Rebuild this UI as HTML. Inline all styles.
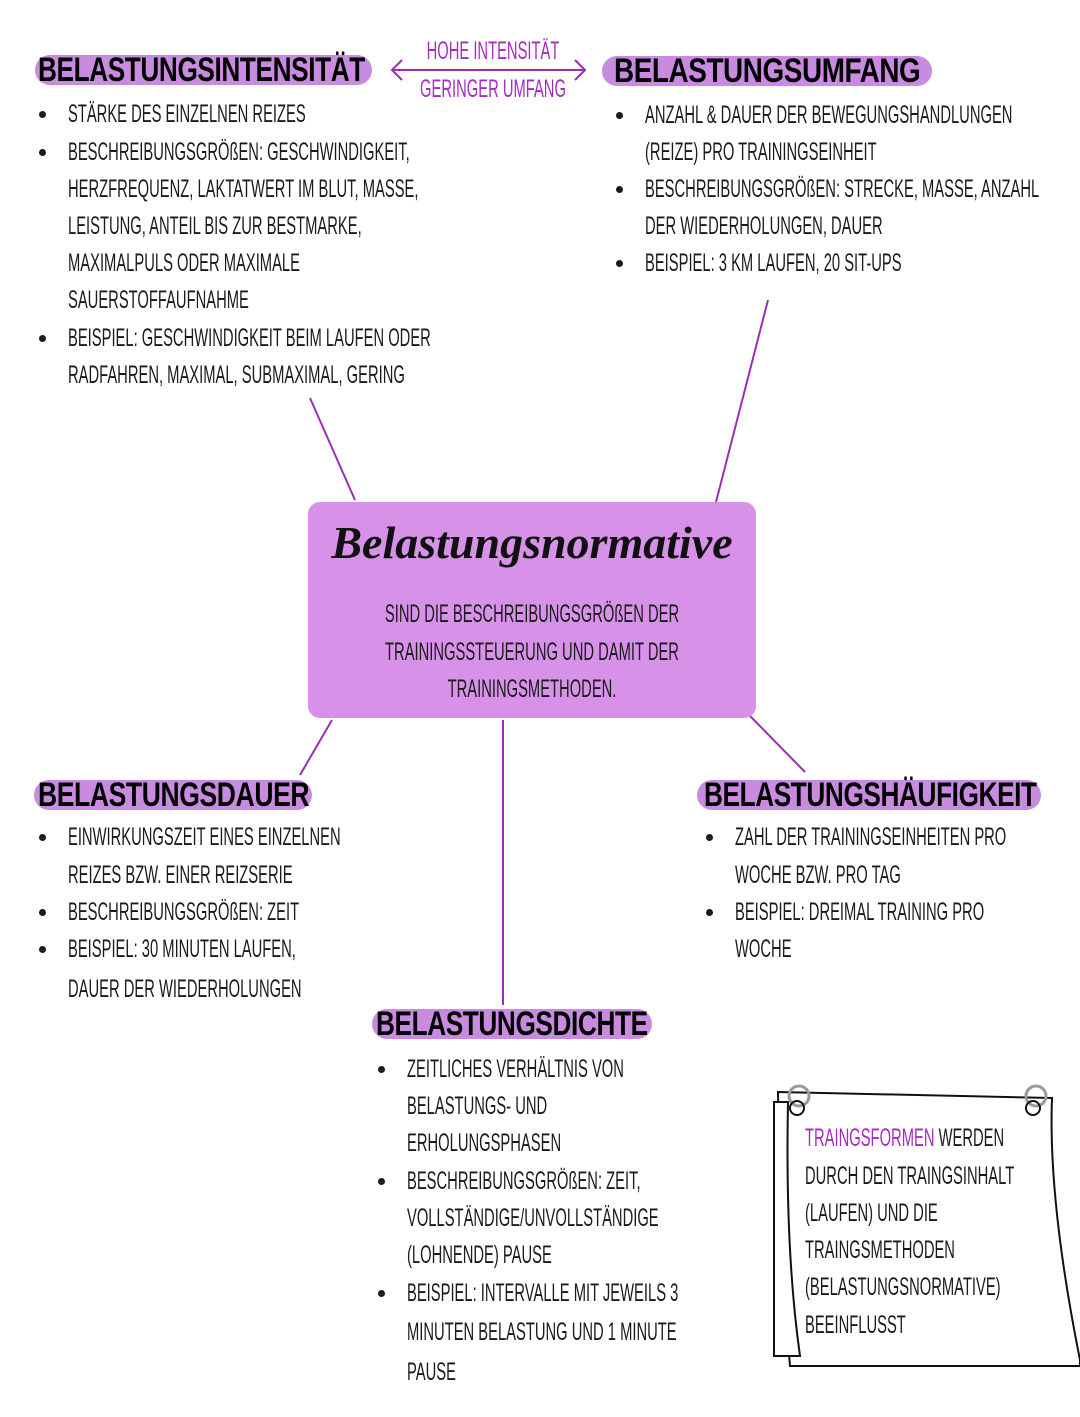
<!DOCTYPE html>
<html><head><meta charset="utf-8"><style>
body{margin:0;width:1080px;height:1417px;background:#fff;position:relative;overflow:hidden;font-family:"Liberation Sans",sans-serif;}
.t{position:absolute;white-space:nowrap;font-size:25px;line-height:26px;transform:scaleX(.59);transform-origin:left center;color:#1a1a1a;}
.c{position:absolute;white-space:nowrap;font-size:25px;line-height:26px;transform:translateX(-50%) scaleX(.59);transform-origin:center center;color:#1a1a1a;}
.b{position:absolute;width:7px;height:7px;border-radius:50%;background:#1a1a1a;}
.h{position:absolute;white-space:nowrap;font-weight:900;font-size:34px;line-height:34px;transform-origin:left center;color:#000;letter-spacing:-0.5px;}
.pill{position:absolute;background:#c98be0;border-radius:16px;height:30px;}
.p{color:#a52bbf}
</style></head><body>
<svg width="1080" height="1417" style="position:absolute;left:0;top:0">
<g stroke="#9a2fb5" stroke-width="2" fill="none">
<line x1="310" y1="398" x2="355" y2="500"/>
<line x1="768" y1="300" x2="716" y2="502"/>
<line x1="332" y1="720" x2="300" y2="775"/>
<line x1="503" y1="720" x2="503" y2="1005"/>
<line x1="750" y1="716" x2="805" y2="772"/>
<line x1="392" y1="70" x2="585" y2="70"/>
<polyline points="402,60 392,70 402,80"/>
<polyline points="575,60 585,70 575,80"/>
</g>
<rect x="308" y="502" width="448" height="216" rx="12" fill="#d891e8"/>
<g stroke="#111" stroke-width="2" fill="#fff">
<path d="M778,1092 L1052,1098 Q1048,1200 1080,1360 L1080,1366 L790,1366 Q780,1250 778,1092Z" />
<path d="M774,1102 L788,1102 Q785,1250 800,1356 L774,1356Z" fill="#fff"/>
</g>
<g fill="none" stroke="#999" stroke-width="3"><circle cx="799" cy="1096" r="10"/><circle cx="1036" cy="1096" r="10"/></g>
<g fill="none" stroke="#111" stroke-width="2"><circle cx="797" cy="1108" r="7"/><circle cx="1033" cy="1108" r="7"/></g>
</svg>

<div class="pill" style="left:35px;top:55px;width:337px"></div>
<div class="h" style="left:38px;top:53px;transform:scaleX(.77)">BELASTUNGSINTENSITÄT</div>
<div class="pill" style="left:602px;top:56px;width:330px"></div>
<div class="h" style="left:614px;top:54px;transform:scaleX(.82)">BELASTUNGSUMFANG</div>
<div class="c p" style="left:493px;top:38px">HOHE INTENSITÄT</div>
<div class="c p" style="left:493px;top:76px">GERINGER UMFANG</div>

<div class="b" style="left:39px;top:111px"></div>
<div class="t" style="left:68px;top:101px">STÄRKE DES EINZELNEN REIZES</div>
<div class="b" style="left:39px;top:149px"></div>
<div class="t" style="left:68px;top:139px">BESCHREIBUNGSGRÖßEN: GESCHWINDIGKEIT,</div>
<div class="t" style="left:68px;top:176px">HERZFREQUENZ, LAKTATWERT IM BLUT, MASSE,</div>
<div class="t" style="left:68px;top:213px">LEISTUNG, ANTEIL BIS ZUR BESTMARKE,</div>
<div class="t" style="left:68px;top:250px">MAXIMALPULS ODER MAXIMALE</div>
<div class="t" style="left:68px;top:287px">SAUERSTOFFAUFNAHME</div>
<div class="b" style="left:39px;top:335px"></div>
<div class="t" style="left:68px;top:325px">BEISPIEL: GESCHWINDIGKEIT BEIM LAUFEN ODER</div>
<div class="t" style="left:68px;top:362px">RADFAHREN, MAXIMAL, SUBMAXIMAL, GERING</div>

<div class="b" style="left:616px;top:112px"></div>
<div class="t" style="left:645px;top:102px">ANZAHL &amp; DAUER DER BEWEGUNGSHANDLUNGEN</div>
<div class="t" style="left:645px;top:139px">(REIZE) PRO TRAININGSEINHEIT</div>
<div class="b" style="left:616px;top:186px"></div>
<div class="t" style="left:645px;top:176px">BESCHREIBUNGSGRÖßEN: STRECKE, MASSE, ANZAHL</div>
<div class="t" style="left:645px;top:213px">DER WIEDERHOLUNGEN, DAUER</div>
<div class="b" style="left:616px;top:260px"></div>
<div class="t" style="left:645px;top:250px">BEISPIEL: 3 KM LAUFEN, 20 SIT-UPS</div>

<div style="position:absolute;left:308px;top:516px;width:448px;text-align:center;font-family:'Liberation Serif',serif;font-style:italic;font-weight:bold;font-size:46px;color:#111">Belastungsnormative</div>
<div class="c" style="left:532px;top:601px">SIND DIE BESCHREIBUNGSGRÖßEN DER</div>
<div class="c" style="left:532px;top:639px">TRAININGSSTEUERUNG UND DAMIT DER</div>
<div class="c" style="left:532px;top:676px">TRAININGSMETHODEN.</div>

<div class="pill" style="left:34px;top:780px;width:278px"></div>
<div class="h" style="left:38px;top:778px;transform:scaleX(.78)">BELASTUNGSDAUER</div>
<div class="b" style="left:39px;top:834px"></div>
<div class="t" style="left:68px;top:824px">EINWIRKUNGSZEIT EINES EINZELNEN</div>
<div class="t" style="left:68px;top:862px">REIZES BZW. EINER REIZSERIE</div>
<div class="b" style="left:39px;top:909px"></div>
<div class="t" style="left:68px;top:899px">BESCHREIBUNGSGRÖßEN: ZEIT</div>
<div class="b" style="left:39px;top:946px"></div>
<div class="t" style="left:68px;top:936px">BEISPIEL: 30 MINUTEN LAUFEN,</div>
<div class="t" style="left:68px;top:976px">DAUER DER WIEDERHOLUNGEN</div>

<div class="pill" style="left:697px;top:780px;width:344px"></div>
<div class="h" style="left:704px;top:778px;transform:scaleX(.77)">BELASTUNGSHÄUFIGKEIT</div>
<div class="b" style="left:706px;top:834px"></div>
<div class="t" style="left:735px;top:824px">ZAHL DER TRAININGSEINHEITEN PRO</div>
<div class="t" style="left:735px;top:862px">WOCHE BZW. PRO TAG</div>
<div class="b" style="left:706px;top:909px"></div>
<div class="t" style="left:735px;top:899px">BEISPIEL: DREIMAL TRAINING PRO</div>
<div class="t" style="left:735px;top:936px">WOCHE</div>

<div class="pill" style="left:372px;top:1009px;width:280px"></div>
<div class="h" style="left:376px;top:1007px;transform:scaleX(.77)">BELASTUNGSDICHTE</div>
<div class="b" style="left:378px;top:1066px"></div>
<div class="t" style="left:407px;top:1056px">ZEITLICHES VERHÄLTNIS VON</div>
<div class="t" style="left:407px;top:1093px">BELASTUNGS- UND</div>
<div class="t" style="left:407px;top:1130px">ERHOLUNGSPHASEN</div>
<div class="b" style="left:378px;top:1178px"></div>
<div class="t" style="left:407px;top:1168px">BESCHREIBUNGSGRÖßEN: ZEIT,</div>
<div class="t" style="left:407px;top:1205px">VOLLSTÄNDIGE/UNVOLLSTÄNDIGE</div>
<div class="t" style="left:407px;top:1242px">(LOHNENDE) PAUSE</div>
<div class="b" style="left:378px;top:1290px"></div>
<div class="t" style="left:407px;top:1280px">BEISPIEL: INTERVALLE MIT JEWEILS 3</div>
<div class="t" style="left:407px;top:1319px">MINUTEN BELASTUNG UND 1 MINUTE</div>
<div class="t" style="left:407px;top:1359px">PAUSE</div>

<div class="t" style="left:805px;top:1125px"><span class="p">TRAINGSFORMEN</span> WERDEN</div>
<div class="t" style="left:805px;top:1163px">DURCH DEN TRAINGSINHALT</div>
<div class="t" style="left:805px;top:1200px">(LAUFEN) UND DIE</div>
<div class="t" style="left:805px;top:1237px">TRAINGSMETHODEN</div>
<div class="t" style="left:805px;top:1274px">(BELASTUNGSNORMATIVE)</div>
<div class="t" style="left:805px;top:1312px">BEEINFLUSST</div>
</body></html>
